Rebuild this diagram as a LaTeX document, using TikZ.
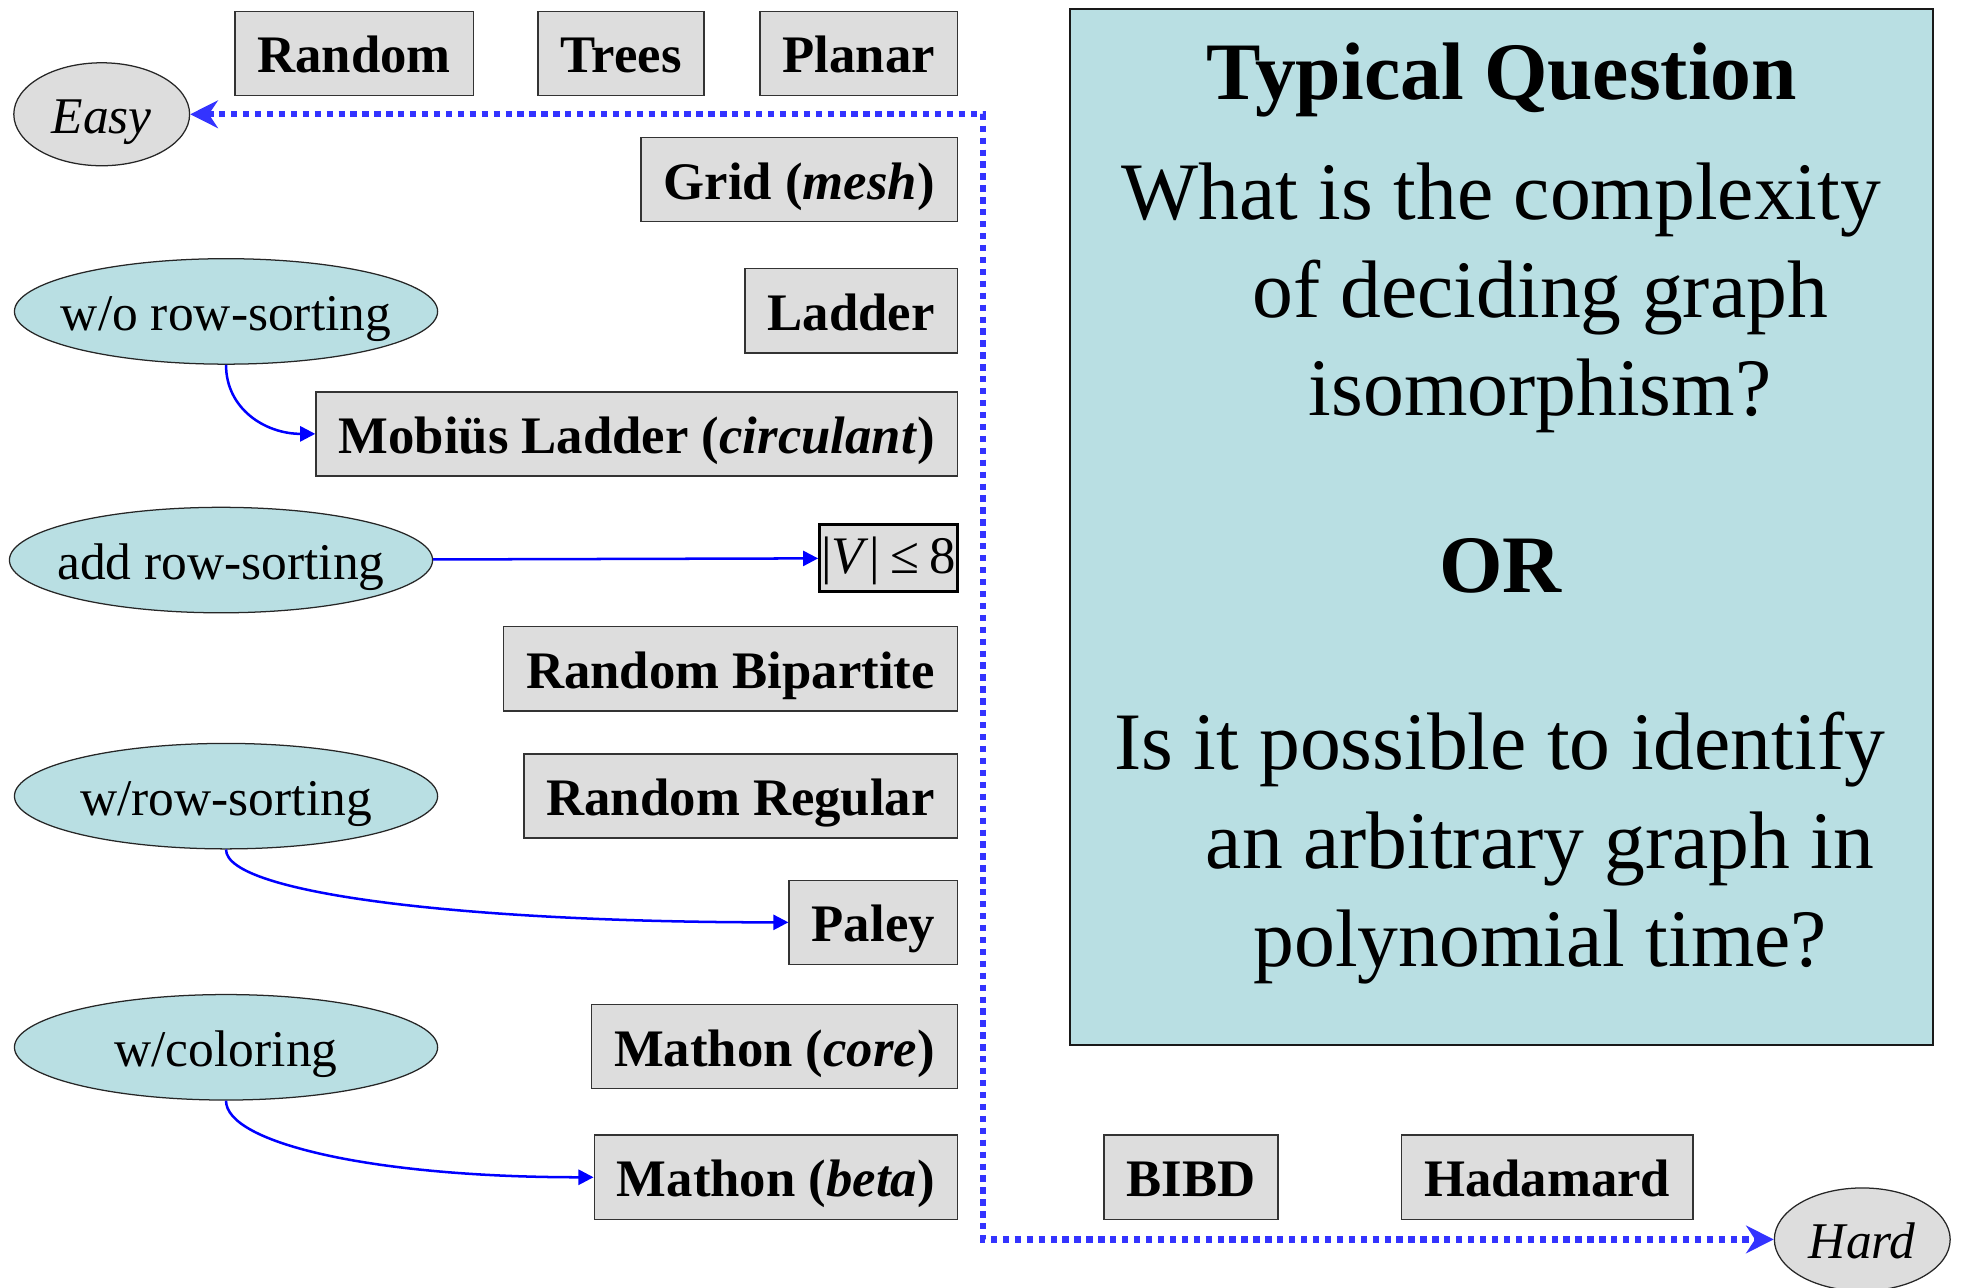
\documentclass[tikz,border=0pt]{standalone}
\usepackage{fontspec}
\setmainfont{Liberation Serif}
\usetikzlibrary{shapes.geometric,arrows.meta}
\definecolor{boxgray}{HTML}{DDDDDD}
\definecolor{qteal}{HTML}{B9DFE3}
\definecolor{dotblue}{HTML}{3333FF}
\newcommand{\boxfont}{\fontsize{42}{50}\selectfont\bfseries}
\newcommand{\ellfont}{\fontsize{41}{49}\selectfont}
\newcommand{\qfont}{\fontsize{65}{78}\selectfont}

\begin{document}
\begin{tikzpicture}[x=1pt, y=-1pt,
  graphbox/.style={draw=black!80, line width=1.2pt, fill=boxgray, minimum height=67pt, inner xsep=18pt, inner ysep=0pt, text height=35pt, text depth=4pt, font=\boxfont},
  method/.style={ellipse, draw=black!85, line width=1pt, fill=qteal, minimum width=337pt, minimum height=84pt, inner xsep=-40pt, inner ysep=0pt, text height=35pt, text depth=4pt, font=\ellfont},
  endpoint/.style={ellipse, draw=black!85, line width=1pt, fill=boxgray, minimum width=140pt, minimum height=82pt, inner xsep=-20pt, inner ysep=0pt, text height=33pt, text depth=2pt, font=\ellfont\itshape},
  qline/.style={inner sep=0pt, anchor=base west, font=\qfont},
  link/.style={blue, line width=2pt, -{Triangle[length=12pt,width=12pt]}},
  dotline/.style={dotblue, line width=5pt, dash pattern=on 5pt off 4.5pt,
    {Stealth[length=22pt,width=22pt]}-{Stealth[length=22pt,width=22pt]}}]
\useasboundingbox (0,0) rectangle (1568,1025);

% question panel
\node[draw=black!90, line width=1.5pt, fill=qteal, minimum width=687pt, minimum height=825pt] (panel) at (1195.5,419.5) {};
\node[inner sep=0pt, anchor=base, font=\qfont\bfseries] (title) at (1196,79) {Typical Question};
\node[qline] (q1) at (893,175) {What is the complexity};
\node[qline] (q2) at (997,253) {of deciding graph};
\node[qline] (q3) at (1042,331) {isomorphism?};
\node[inner sep=0pt, anchor=base, font=\qfont\bfseries] (or) at (1195,472) {OR};
\node[qline] (q4) at (887,613) {Is it possible to identify};
\node[qline] (q5) at (960,692) {an arbitrary graph in};
\node[qline] (q6) at (998,770) {polynomial time?};

% end points
\node[endpoint] (easy) at (81,91) {Easy};
\node[endpoint] (hard) at (1483,987) {Hard};

% graph families
\node[graphbox] (random) at (282,42.5) {Random};
\node[graphbox] (trees) at (494.5,42.5) {Trees};
\node[graphbox, anchor=east] (planar) at (763,42.5) {Planar};
\node[graphbox, anchor=east] (grid) at (763,143) {Grid (\textit{mesh})};
\node[graphbox, anchor=east] (ladder) at (763,247.5) {Ladder};
\node[graphbox, anchor=east] (mobius) at (763,345.5) {Mobiüs Ladder (\textit{circulant})};
\node[draw=black, line width=2.5pt, fill=boxgray, minimum width=110pt, minimum height=53pt, inner sep=0pt, text height=31pt, text depth=6pt, font=\fontsize{42}{50}\selectfont, anchor=east] (vle) at (764,444.5) {|\textit{V}|\kern9pt≤\kern8pt8};
\node[graphbox, anchor=east] (bipartite) at (763,532.5) {Random Bipartite};
\node[graphbox, anchor=east] (regular) at (763,634) {Random Regular};
\node[graphbox, anchor=east] (paley) at (763,734.5) {Paley};
\node[graphbox, anchor=east] (mcore) at (763,833.5) {Mathon (\textit{core})};
\node[graphbox, anchor=east] (mbeta) at (763,937.5) {Mathon (\textit{beta})};
\node[graphbox] (bibd) at (948.5,937.5) {BIBD};
\node[graphbox] (hadamard) at (1232,937.5) {Hadamard};

% methods
\node[method] (wo) at (180,248) {w/o row-sorting};
\node[method] (add) at (176,446) {add row-sorting};
\node[method] (wr) at (180,634) {w/row-sorting};
\node[method] (wc) at (180,834) {w/coloring};

\draw[link] (wo.south) .. controls +(0,35) and +(-40,0) .. (mobius.west);
\draw[link] (add) -- (vle);
\draw[link] (wr.south) .. controls +(0,36) and +(-250,0) .. (paley.west);
\draw[link] (wc.south) .. controls +(0,34) and +(-175,0) .. (mbeta.west);

% easy -- hard scale
\coordinate (bend) at (783,91);
\draw[dotline] (easy) -- (bend) |- (hard);
\end{tikzpicture}
\end{document}
